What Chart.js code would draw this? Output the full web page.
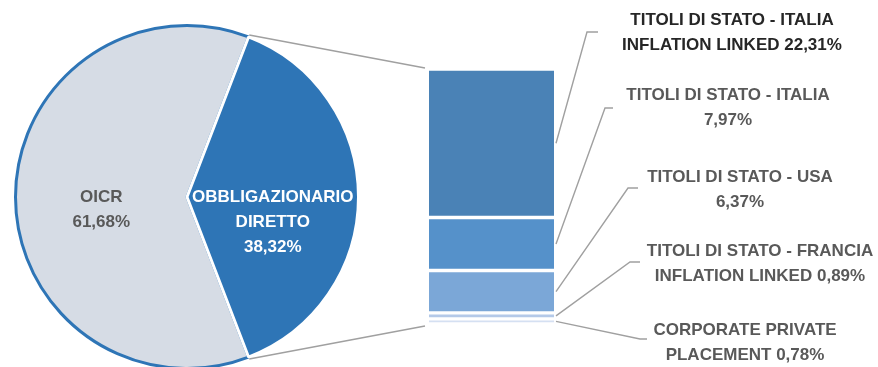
<!DOCTYPE html>
<html>
<head>
<meta charset="utf-8">
<script src="https://cdn.jsdelivr.net/npm/chart.js@4"></script>
<style>
  html, body { margin: 0; padding: 0; background: #fff; overflow: hidden; }
  body { width: 878px; height: 367px; position: relative; }
  #pie-graph { position: absolute; left: 14px; top: 24px; }
  #bar-graph { position: absolute; left: 0; top: 0; }
</style>
</head>
<body>
<canvas id="pie-graph" width="346" height="346"></canvas>
<canvas id="bar-graph" width="878" height="367"></canvas>
<script>
// pie: total portfolio
const pieLabels = [["OICR"], ["OBBLIGAZIONARIO", "DIRETTO"]];
const pieValues = [61.68, 38.32];

// bar: breakdown of "obbligazionario diretto", top to bottom
const barLabels = [
  ["TITOLI DI STATO - ITALIA", "INFLATION LINKED"],
  ["TITOLI DI STATO - ITALIA"],
  ["TITOLI DI STATO - USA"],
  ["TITOLI DI STATO - FRANCIA", "INFLATION LINKED"],
  ["CORPORATE PRIVATE", "PLACEMENT"],
];
const barValues = [22.31, 7.97, 6.37, 0.89, 0.78];

const pieColors = ["#d6dce5", "#2e75b6"];
const pieTextColors = ["#595959", "#ffffff"];
const barColors = ["#4a82b6", "#5591ca", "#7ba7d7", "#b4c9e8", "#d5e0f2"];
const barTextColors = ["#262626", "#595959", "#595959", "#595959", "#595959"];

// where each bar label sits: text centre, elbow of the leader line, end of its short tail
const calloutLayout = [
  { tx: 732, ty: 20, ex: 587, ey: 32, hx: 598 },
  { tx: 728, ty: 95, ex: 605, ey: 108, hx: 613 },
  { tx: 740, ty: 177, ex: 628, ey: 188, hx: 638 },
  { tx: 760, ty: 251, ex: 630, ey: 262, hx: 640 },
  { tx: 745, ty: 330, ex: 640, ey: 339, hx: 647 },
];

const FONT = 'bold 17px "Liberation Sans", Arial, sans-serif';
const LINE_H = 25;
const pct = (v) => v.toFixed(2).replace(".", ",") + "%";

const pieTotal = pieValues.reduce((a, b) => a + b, 0);

const pieText = {
  id: "pieText",
  afterDatasetsDraw(chart) {
    const ctx = chart.ctx;
    ctx.save();
    ctx.font = FONT;
    ctx.textAlign = "center";
    ctx.textBaseline = "middle";
    chart.getDatasetMeta(0).data.forEach((arc, i) => {
      const p = arc.getCenterPoint();
      const lines = pieLabels[i].concat([pct(pieValues[i])]);
      ctx.fillStyle = pieTextColors[i];
      lines.forEach((t, k) => ctx.fillText(t, p.x, p.y + k * LINE_H));
    });
    ctx.restore();
  },
};

const pieChart = new Chart(document.getElementById("pie-graph"), {
  type: "pie",
  data: {
    labels: pieLabels.map((l) => l.join(" ")),
    datasets: [
      {
        data: pieValues,
        backgroundColor: pieColors,
        borderColor: ["#2e75b6", "#ffffff"],
        borderWidth: 3,
        hoverOffset: 0,
      },
    ],
  },
  options: {
    responsive: false,
    animation: false,
    events: [],
    // OICR centred on the left, the exploded slice on the right
    rotation: 270 - (pieValues[0] / pieTotal) * 180,
    plugins: { legend: { display: false }, tooltip: { enabled: false } },
  },
  plugins: [pieText],
});

const callouts = {
  id: "callouts",
  afterDraw(chart) {
    const ctx = chart.ctx;
    const n = barValues.length;
    ctx.save();
    ctx.strokeStyle = "#a0a0a0";
    ctx.lineWidth = 1.4;

    // lines joining the pie slice to the bar
    const arc = pieChart.getDatasetMeta(0).data[1];
    const pr = pieChart.canvas.getBoundingClientRect();
    const br = chart.canvas.getBoundingClientRect();
    const ox = pr.left - br.left + arc.x;
    const oy = pr.top - br.top + arc.y;
    const r = arc.outerRadius + 2;
    const topEl = chart.getDatasetMeta(n - 1).data[0];
    const botEl = chart.getDatasetMeta(0).data[0];
    const left = topEl.x - topEl.width / 2;
    ctx.beginPath();
    ctx.moveTo(ox + r * Math.cos(arc.startAngle), oy + r * Math.sin(arc.startAngle));
    ctx.lineTo(left - 4, topEl.y - 1);
    ctx.moveTo(ox + r * Math.cos(arc.endAngle), oy + r * Math.sin(arc.endAngle));
    ctx.lineTo(left - 4, botEl.base + 2);
    ctx.stroke();

    // leader lines and labels
    ctx.font = FONT;
    ctx.textAlign = "center";
    ctx.textBaseline = "middle";
    barValues.forEach((v, i) => {
      const el = chart.getDatasetMeta(n - 1 - i).data[0];
      const c = calloutLayout[i];
      ctx.beginPath();
      ctx.moveTo(el.x + el.width / 2 + 2, (el.y + el.base) / 2);
      ctx.lineTo(c.ex, c.ey);
      ctx.lineTo(c.hx, c.ey);
      ctx.stroke();

      const lines = barLabels[i].slice();
      if (lines.length > 1) lines[lines.length - 1] += " " + pct(v);
      else lines.push(pct(v));
      ctx.fillStyle = barTextColors[i];
      lines.forEach((t, k) => ctx.fillText(t, c.tx, c.ty + k * LINE_H));
    });
    ctx.restore();
  },
};

// stacked from the bottom up, so the list is reversed
const barTotal = barValues.reduce((a, b) => a + b, 0);
new Chart(document.getElementById("bar-graph"), {
  type: "bar",
  data: {
    labels: [""],
    datasets: barValues
      .map((v, i) => ({
        label: barLabels[i].join(" "),
        data: [v],
        backgroundColor: barColors[i],
        borderColor: "#ffffff",
        borderWidth: { top: 2, bottom: 2, left: 0, right: 0 },
        borderSkipped: false,
        barPercentage: 1,
        categoryPercentage: 1,
      }))
      .reverse(),
  },
  options: {
    responsive: false,
    animation: false,
    events: [],
    layout: { padding: { left: 429, right: 324, top: 69, bottom: 43 } },
    scales: {
      x: { stacked: true, display: false },
      y: { stacked: true, display: false, min: 0, max: barTotal },
    },
    plugins: { legend: { display: false }, tooltip: { enabled: false } },
  },
  plugins: [callouts],
});
</script>
</body>
</html>
